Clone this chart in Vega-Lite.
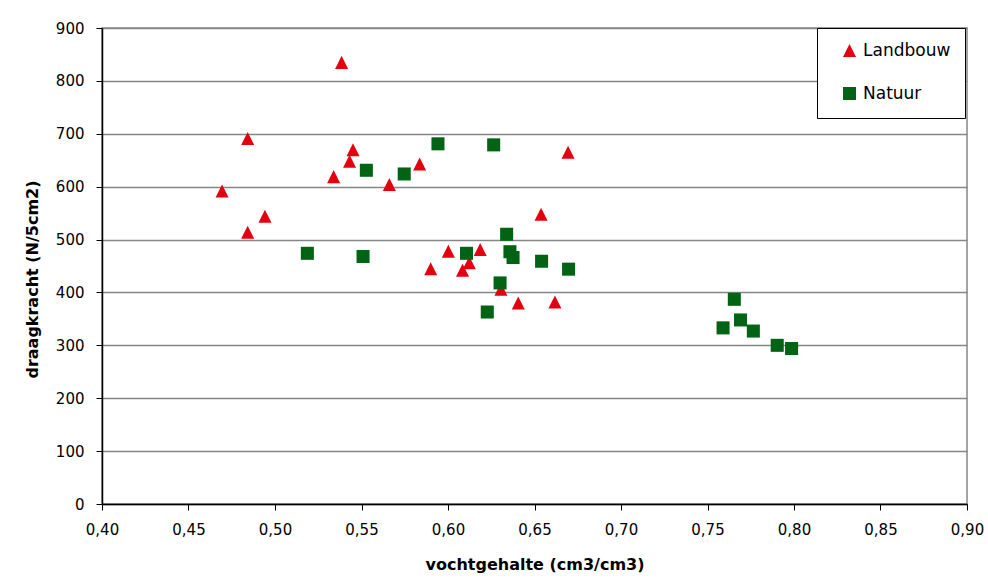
{
  "$schema": "https://vega.github.io/schema/vega-lite/v6.json",
  "width": 865,
  "height": 476,
  "autosize": "none",
  "padding": {"left": 102, "top": 28, "right": 21, "bottom": 77},
  "background": "white",
  "config": {
    "view": {"stroke": "#868686", "strokeWidth": 1.5},
    "font": "DejaVu Sans"
  },
  "data": {
    "values": [
      {"type": "Landbouw", "vocht": 0.5385, "draag": 835},
      {"type": "Landbouw", "vocht": 0.4842, "draag": 691},
      {"type": "Landbouw", "vocht": 0.5451, "draag": 670},
      {"type": "Landbouw", "vocht": 0.5431, "draag": 648},
      {"type": "Landbouw", "vocht": 0.5339, "draag": 619},
      {"type": "Landbouw", "vocht": 0.5836, "draag": 643},
      {"type": "Landbouw", "vocht": 0.5661, "draag": 604},
      {"type": "Landbouw", "vocht": 0.4694, "draag": 592},
      {"type": "Landbouw", "vocht": 0.4942, "draag": 544},
      {"type": "Landbouw", "vocht": 0.4842, "draag": 514},
      {"type": "Landbouw", "vocht": 0.6694, "draag": 665},
      {"type": "Landbouw", "vocht": 0.6538, "draag": 548},
      {"type": "Landbouw", "vocht": 0.6002, "draag": 478},
      {"type": "Landbouw", "vocht": 0.6186, "draag": 481},
      {"type": "Landbouw", "vocht": 0.5900, "draag": 445},
      {"type": "Landbouw", "vocht": 0.6123, "draag": 456},
      {"type": "Landbouw", "vocht": 0.6084, "draag": 442},
      {"type": "Landbouw", "vocht": 0.6306, "draag": 406},
      {"type": "Landbouw", "vocht": 0.6406, "draag": 380},
      {"type": "Landbouw", "vocht": 0.6618, "draag": 382},
      {"type": "Natuur", "vocht": 0.5528, "draag": 631},
      {"type": "Natuur", "vocht": 0.5747, "draag": 624},
      {"type": "Natuur", "vocht": 0.5942, "draag": 681},
      {"type": "Natuur", "vocht": 0.5187, "draag": 474},
      {"type": "Natuur", "vocht": 0.5509, "draag": 468},
      {"type": "Natuur", "vocht": 0.6264, "draag": 679},
      {"type": "Natuur", "vocht": 0.6339, "draag": 510},
      {"type": "Natuur", "vocht": 0.6107, "draag": 474},
      {"type": "Natuur", "vocht": 0.6358, "draag": 477},
      {"type": "Natuur", "vocht": 0.6376, "draag": 466},
      {"type": "Natuur", "vocht": 0.6541, "draag": 459},
      {"type": "Natuur", "vocht": 0.6697, "draag": 444},
      {"type": "Natuur", "vocht": 0.6301, "draag": 418},
      {"type": "Natuur", "vocht": 0.6227, "draag": 363},
      {"type": "Natuur", "vocht": 0.7655, "draag": 387},
      {"type": "Natuur", "vocht": 0.7691, "draag": 348},
      {"type": "Natuur", "vocht": 0.7590, "draag": 333},
      {"type": "Natuur", "vocht": 0.7765, "draag": 327},
      {"type": "Natuur", "vocht": 0.7903, "draag": 300},
      {"type": "Natuur", "vocht": 0.7986, "draag": 294}
    ]
  },
  "mark": {"type": "point", "filled": true, "opacity": 1, "size": 170},
  "encoding": {
    "x": {
      "field": "vocht",
      "type": "quantitative",
      "scale": {"domain": [0.4, 0.9], "zero": false, "nice": false},
      "axis": {
        "values": [0.4, 0.45, 0.5, 0.55, 0.6, 0.65, 0.7, 0.75, 0.8, 0.85, 0.9],
        "labelExpr": "replace(format(datum.value, '.2f'), '.', ',')",
        "grid": false,
        "domainColor": "black",
        "domainWidth": 1.5,
        "tickColor": "black",
        "tickSize": 6,
        "labelFontSize": 15,
        "labelColor": "black",
        "labelPadding": 12,
        "labelFlush": false,
        "title": "vochtgehalte (cm3/cm3)",
        "titleFontSize": 16,
        "titleFontWeight": "bold",
        "titleColor": "black",
        "titlePadding": 19
      }
    },
    "y": {
      "field": "draag",
      "type": "quantitative",
      "scale": {"domain": [0, 900], "nice": false},
      "axis": {
        "values": [0, 100, 200, 300, 400, 500, 600, 700, 800, 900],
        "grid": true,
        "gridColor": "#868686",
        "gridWidth": 1.5,
        "domainColor": "black",
        "domainWidth": 1.5,
        "tickColor": "black",
        "tickSize": 6,
        "labelFontSize": 15,
        "labelColor": "black",
        "labelPadding": 12,
        "title": "draagkracht (N/5cm2)",
        "titleFontSize": 16,
        "titleFontWeight": "bold",
        "titleColor": "black",
        "titlePadding": 15,
        "titleY": 251
      }
    },
    "color": {
      "field": "type",
      "type": "nominal",
      "scale": {"domain": ["Landbouw", "Natuur"], "range": ["#e3000f", "#006414"]},
      "legend": {
        "title": null,
        "orient": "none",
        "legendX": 715,
        "legendY": 0,
        "strokeColor": "black",
        "fillColor": "white",
        "padding": 14,
        "symbolOffset": 10,
        "rowPadding": 22,
        "labelFontSize": 17,
        "labelColor": "black",
        "labelOffset": 5,
        "symbolSize": 170,
        "symbolOpacity": 1
      }
    },
    "shape": {
      "field": "type",
      "type": "nominal",
      "scale": {"domain": ["Landbouw", "Natuur"], "range": ["M-1,1L1,1L0,-1Z", "square"]}
    }
  }
}
